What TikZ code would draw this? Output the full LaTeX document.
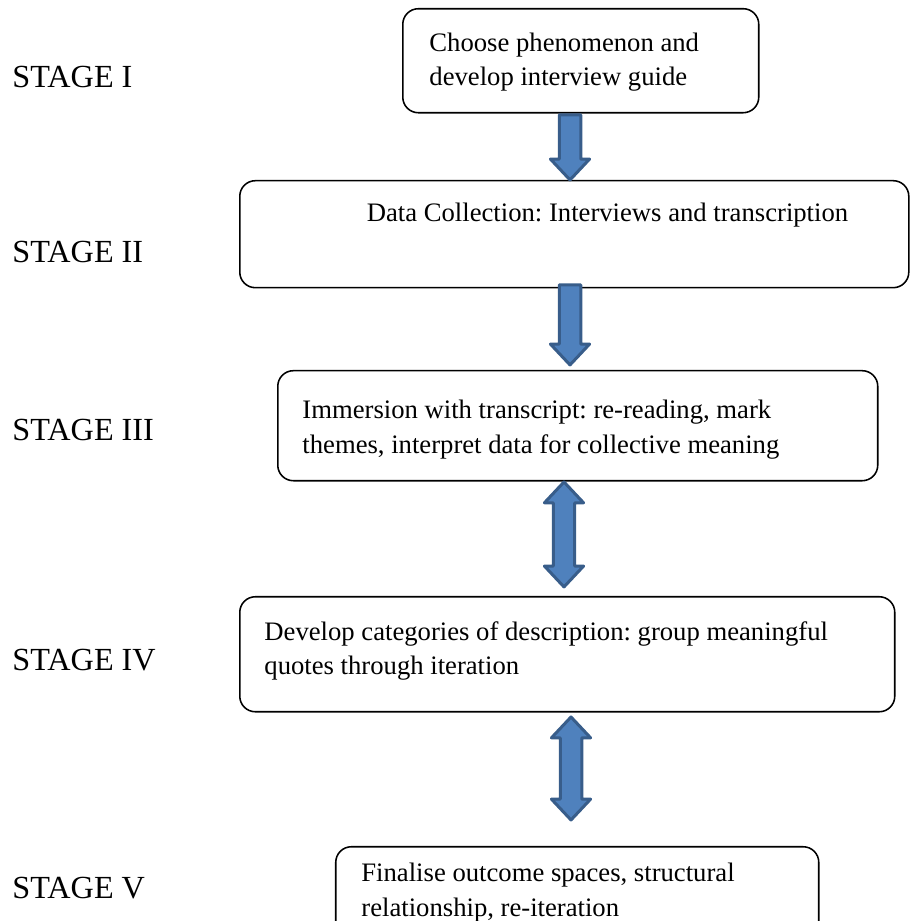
\documentclass[tikz,border=0pt]{standalone}
\usepackage{fontspec}
\setmainfont{Liberation Serif}
\usepackage{tikz}
\usetikzlibrary{calc}
\frenchspacing

\definecolor{arrowfill}{RGB}{79,129,189}
\definecolor{arrowedge}{RGB}{56,93,138}

\newcommand{\blockdown}[2]{%
  \draw[blockarrow] ($(#1)+(-0.17,0)$) -- ($(#1)+(0.17,0)$) -- ($(#2)+(0.17,0.33)$)
    -- ($(#2)+(0.31,0.33)$) -- (#2) -- ($(#2)+(-0.31,0.33)$) -- ($(#2)+(-0.17,0.33)$) -- cycle;}
\newcommand{\blockboth}[2]{%
  \draw[blockarrow] (#1) -- ($(#1)+(0.31,-0.33)$) -- ($(#1)+(0.17,-0.33)$) -- ($(#2)+(0.17,0.33)$)
    -- ($(#2)+(0.31,0.33)$) -- (#2) -- ($(#2)+(-0.31,0.33)$) -- ($(#2)+(-0.17,0.33)$)
    -- ($(#1)+(-0.17,-0.33)$) -- ($(#1)+(-0.31,-0.33)$) -- cycle;}

\begin{document}
\begin{tikzpicture}[
    stagebox/.style={draw, line width=0.7pt, rounded corners=7pt, anchor=north west, inner sep=0pt},
    boxtext/.style={font=\fontsize{12}{15.5}\selectfont, align=left, anchor=west, inner sep=0pt},
    stagelabel/.style={font=\fontsize{14.5}{17}\selectfont, anchor=west, inner sep=0pt},
    blockarrow/.style={fill=arrowfill, draw=arrowedge, line width=1.35pt, line join=round}]
          \useasboundingbox (0,0) rectangle (14.614,14.566);
          \clip (0,0) rectangle (14.614,14.566);
          \node[stagebox, minimum width=5.630cm, minimum height=1.645cm] (b1) at (6.358,14.440) {};
          \node[stagebox, minimum width=10.581cm, minimum height=1.692cm] (b2) at (3.780,11.720) {};
          \node[stagebox, minimum width=9.489cm, minimum height=1.740cm] (b3) at (4.381,8.715) {};
          \node[stagebox, minimum width=10.359cm, minimum height=1.819cm] (b4) at (3.780,5.140) {};
          \node[stagebox, minimum width=7.639cm, minimum height=1.700cm] (b5) at (5.298,1.186) {};
          \node[boxtext] (t1) at (6.785,13.580)
            {Choose phenomenon and\\develop interview guide};
          \node[boxtext, anchor=center] (t2) at (9.608,11.160)
            {Data Collection: Interviews and transcription};
          \node[boxtext] (t3) at (4.776,7.770)
            {Immersion with transcript: re-reading, mark\\themes, interpret data for collective meaning};
          \node[boxtext] (t4) at (4.175,4.270)
            {Develop categories of description: group meaningful\\quotes through iteration};
          \node[boxtext] (t5) at (5.709,0.450)
            {Finalise outcome spaces, structural\\relationship, re-iteration};
          \node[stagelabel] (s1) at (0.190,13.349) {STAGE I};
          \node[stagelabel] (s2) at (0.190,10.581) {STAGE II};
          \node[stagelabel] (s3) at (0.190,7.766) {STAGE III};
          \node[stagelabel] (s4) at (0.190,4.128) {STAGE IV};
          \node[stagelabel] (s5) at (0.190,0.522) {STAGE V};
          \coordinate (a1top) at (9.015,12.748);
          \coordinate (a1tip) at (9.015,11.720);
          \coordinate (a2top) at (9.015,10.059);
          \coordinate (a2tip) at (9.015,8.794);
          \coordinate (a3top) at (8.920,6.943);
          \coordinate (a3tip) at (8.920,5.283);
          \coordinate (a4top) at (9.031,3.226);
          \coordinate (a4tip) at (9.031,1.597);
          \blockdown{a1top}{a1tip}
          \blockdown{a2top}{a2tip}
          \blockboth{a3top}{a3tip}
          \blockboth{a4top}{a4tip}
        \end{tikzpicture}
\end{document}
